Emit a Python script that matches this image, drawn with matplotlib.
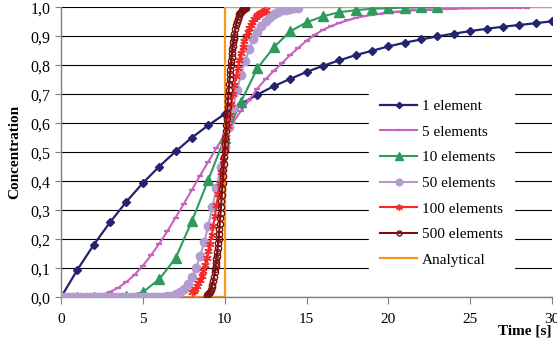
import numpy as np
import matplotlib
matplotlib.use('Agg')
import matplotlib.pyplot as plt
from matplotlib.ticker import FuncFormatter, MultipleLocator

# ---- data ----
t_1 = np.arange(0, 31, 1.0)
c_1 = [0, .095, .181, .259, .330, .394, .451, .503, .551, .593, .632,
       .667, .699, .728, .753, .777, .798, .817, .835, .850, .865,
       .878, .889, .900, .909, .918, .926, .933, .939, .945, .952]

t_5 = np.arange(0, 29, 0.5)
c_5 = [0, 0, 0, .001, .004, .009, .019, .033, .053, .078, .109,
       .145, .185, .228, .275, .322, .371, .420, .468, .515, .560,
       .602, .643, .680, .720, .752, .781, .807, .835, .860, .885,
       .905, .922, .935, .946, .955, .963, .969, .974, .978, .982,
       .985, .987, .989, .991, .992, .993, .994, .995, .996, .996,
       .997, .997, .998, .998, .998, .999, .999]

t_10 = np.arange(0, 24, 1.0)
c_10 = [0, 0, 0, 0, .003, .018, .062, .135, .263, .405, .55,
        .675, .79, .862, .917, .948, .969, .983, .99, .995, .997,
        .999, 1.0, 1.0]

t_50 = np.arange(0, 14.75, 0.25)
c_50 = [0] * 24 + [.001, .001, .003, .005, .010, .018, .029, .046, .070,
                   .102, .142, .190, .247, .310, .377, .448, .519, .588,
                   .654, .714, .768, .815, .855, .889, .916, .937, .954,
                   .967, .977, .984, .989, .992, .995, .997, .998]

t_100 = np.arange(8.0, 12.55, 0.1)
c_100 = [.017, .023, .030, .038, .048, .061, .075, .092, .112, .134,
         .158, .185, .215, .247, .281, .317, .355, .394, .433, .473,
         .513, .553, .592, .629, .666, .700, .733, .764, .792, .818,
         .842, .863, .883, .900, .915, .928, .940, .950, .959, .966,
         .972, .977, .982, .985, .988, .991]

t_500 = [8.9, 8.95, 9.0, 9.05, 9.1, 9.15, 9.2, 9.25, 9.3, 9.35, 9.4,
         9.425, 9.45, 9.475, 9.5, 9.525, 9.55, 9.575, 9.6, 9.625, 9.65,
         9.675, 9.7, 9.725, 9.75, 9.775, 9.8, 9.825, 9.85, 9.875, 9.9,
         9.925, 9.95, 9.975, 10.0, 10.025, 10.05, 10.075, 10.1, 10.125,
         10.15, 10.175, 10.2, 10.225, 10.25, 10.275, 10.3, 10.325, 10.35,
         10.375, 10.4, 10.425, 10.45, 10.475, 10.5, 10.525, 10.55, 10.575,
         10.6, 10.65, 10.7, 10.75, 10.8, 10.85, 10.9, 10.95, 11.0, 11.05,
         11.1, 11.15, 11.2, 11.25, 11.3]
c_500 = [.006, .008, .011, .015, .020, .026, .034, .044, .056, .071, .088,
         .098, .108, .119, .131, .144, .157, .171, .186, .202, .219,
         .236, .254, .272, .292, .311, .332, .353, .374, .395, .417,
         .439, .461, .484, .506, .528, .550, .572, .594, .615,
         .636, .657, .677, .697, .715, .734, .752, .769, .785,
         .800, .815, .830, .843, .856, .868, .879, .889, .899,
         .908, .925, .939, .951, .961, .969, .976, .981, .985, .989,
         .992, .994, .995, .997, .998]

t_an = [0, 10, 10, 30]
c_an = [0, 0, 1, 1]

plt.rcParams['font.family'] = ['Liberation Serif', 'DejaVu Serif']

fig = plt.figure(figsize=(5.57, 3.48), dpi=100)
ax = fig.add_axes([61 / 557, 1 - 297.3 / 348, 491 / 557, 290 / 348])

ax.plot(t_an, c_an, color='#F7981D', lw=1.6, label='Analytical', zorder=1)
ax.plot(t_1, c_1, color='#23236F', lw=1.6, marker='D', ms=4,
        label='1 element', zorder=2)
ax.plot(t_5, c_5, color='#C862BE', lw=1.5, marker='_', ms=4, mew=1.6,
        label='5 elements', zorder=3)
ax.plot(t_10, c_10, color='#2E9A5E', lw=1.5, marker='^', ms=7,
        label='10 elements', zorder=4)
ax.plot(t_50, c_50, color='#B39DD0', lw=1.5, marker='o', ms=6,
        label='50 elements', zorder=5)
ax.plot(t_100, c_100, color='#F42A2A', lw=1.5, marker=(6, 2, 0), ms=6,
        mew=1.0, label='100 elements', zorder=6)
ax.plot(t_500, c_500, color='#7B1010', lw=1.5, marker='o', ms=4.5,
        mfc='none', mew=1.0, label='500 elements', zorder=7)

ax.set_xlim(0, 30)
ax.set_ylim(0, 1)
ax.xaxis.set_major_locator(MultipleLocator(5))
ax.yaxis.set_major_locator(MultipleLocator(0.1))
ax.yaxis.set_major_formatter(FuncFormatter(lambda v, p: f"{v:.1f}".replace('.', ',')))
ax.grid(axis='y', color='black', lw=0.8, zorder=0)
ax.set_axisbelow(True)
for s in ['top', 'right']:
    ax.spines[s].set_visible(False)
for s in ['left', 'bottom']:
    ax.spines[s].set_color('#808080')
    ax.spines[s].set_linewidth(1.0)
ax.tick_params(axis='both', colors='#808080', labelcolor='black',
               labelsize=11.5, direction='out', length=4)
ax.tick_params(axis='x', length=5, pad=6, labelsize=11)

ax.set_ylabel('Concentration', fontsize=11, fontweight='bold')
ax.yaxis.set_label_coords(-0.08, 0.5)
ax.set_xlabel('Time [s]', fontsize=11, fontweight='bold', ha='right')
ax.xaxis.set_label_coords(0.998, -0.095)

handles, labels = ax.get_legend_handles_labels()
order = [1, 2, 3, 4, 5, 6, 0]
leg = ax.legend([handles[i] for i in order], [labels[i] for i in order],
                loc='upper left', bbox_to_anchor=(369 / 557, 1 - 88 / 348),
                bbox_transform=fig.transFigure, borderaxespad=0,
                fontsize=11, frameon=True, fancybox=False, framealpha=1,
                facecolor='white', edgecolor='white', handlelength=2.4,
                handletextpad=0.3, labelspacing=0.78, borderpad=0.75,
                markerscale=0.8)
leg.set_zorder(10)

fig.savefig('out.png', dpi=100)
